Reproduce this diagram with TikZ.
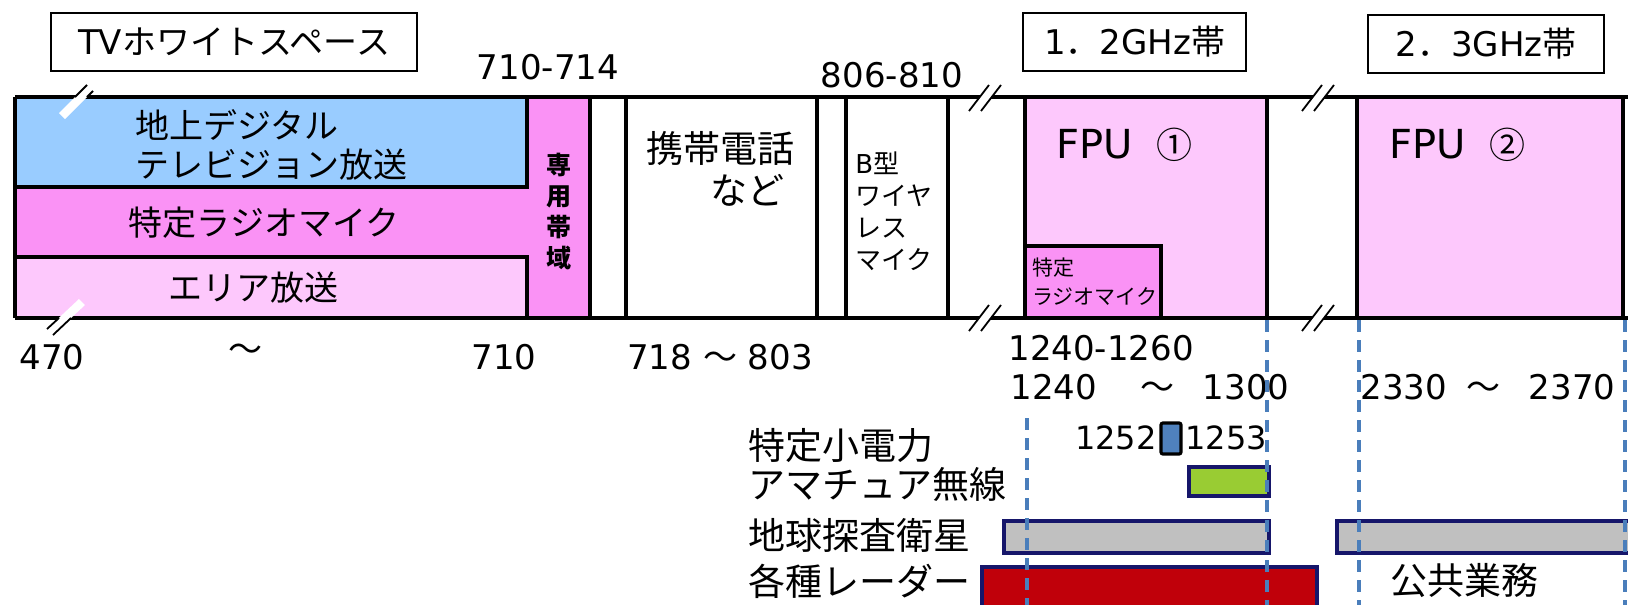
\documentclass[tikz,border=0pt]{standalone}
\usepackage{fontspec}
\setmainfont{Noto Sans CJK JP}
\newfontfamily\numf{DejaVu Sans}
\definecolor{tvblue}{HTML}{99CCFF}
\definecolor{mag}{HTML}{FA92F5}
\definecolor{lpink}{HTML}{FDC8FC}
\definecolor{dblue}{HTML}{4A7EBB}
\definecolor{navy}{HTML}{16166A}
\definecolor{lgreen}{HTML}{99CC33}
\definecolor{bgray}{HTML}{C0C0C0}
\definecolor{dred}{HTML}{C0000A}
\definecolor{sblue}{HTML}{4F81BD}
\begin{document}
\begin{tikzpicture}[x=0.5pt,y=-0.5pt,
  band/.style={line width=2.2pt},
  innerline/.style={line width=1.8pt},
  lbl/.style={inner sep=0pt, font=\fontsize{17}{20.5}\selectfont},
  lblb/.style={inner sep=0pt, font=\fontsize{18.5}{21}\selectfont},
  num/.style={inner sep=0pt, font=\numf\fontsize{17}{20}\selectfont},
  tag/.style={draw, line width=1pt, inner sep=0pt, font=\fontsize{17}{20}\selectfont},
  bar/.style={draw=navy, line width=1.6pt},
  guide/.style={dblue, line width=1.6pt, dash pattern=on 6pt off 4pt},
  brk/.pic={
    \fill[white] (-17,13) -- (3,-13) -- (15,-13) -- (-5,13) -- cycle;
    \draw[line width=0.9pt] (-17,13) -- (3,-13) (-5,13) -- (15,-13);
  }]
\useasboundingbox (0,0) rectangle (1628,605);

% ---- fills ----
\fill[mag] (15,97) rectangle (590,318);
\fill[tvblue] (15,97) rectangle (527,187);
\fill[lpink] (15,257) rectangle (527,318);
\fill[lpink] (1025,97) rectangle (1267,318);
\fill[mag] (1025,246) rectangle (1161,318);
\fill[lpink] (1357,97) rectangle (1623,318);

% ---- inner borders ----
\draw[innerline] (527,97) -- (527,187) -- (15,187);
\draw[innerline] (15,257) -- (527,257) -- (527,318);
\draw[innerline] (1025,246) -- (1161,246) -- (1161,318);

% ---- band lines ----
\draw[band] (15,97) -- (1628,97);
\draw[band] (15,318) -- (1628,318);
\foreach \xx in {15,590,626,817,846,948,1025,1267,1357,1623}
  \draw[band] (\xx,97) -- (\xx,318);

% ---- break marks ----
\pic at (986,98) {brk};
\pic at (986,318) {brk};
\pic at (1319,98) {brk};
\pic at (1319,318) {brk};
% white marks at the left
\fill[white] (59,113) -- (87,85) -- (93,91) -- (65,119) -- cycle;
\draw[line width=0.9pt] (75,97) -- (87,85) (87,97) -- (93,91);
\fill[white] (47,329) -- (79,299) -- (85,305) -- (53,335) -- cycle;
\draw[line width=0.9pt] (47,329) -- (59,318) (53,335) -- (71,318);

% ---- title boxes ----
\node[tag, minimum width=183pt, minimum height=29pt] (tv) at (234,41.5) {{\numf TV}ホワイトスペース};
\node[tag, minimum width=111.5pt, minimum height=29pt] (g12) at (1134.5,41.5) {{\numf 1}．{\numf 2GHz}帯};
\node[tag, minimum width=118pt, minimum height=29pt] (g23) at (1486,43.6) {{\numf 2}．{\numf 3GHz}帯};

% ---- band labels ----
\node[lbl, align=left, anchor=west, font=\fontsize{17}{19.5}\selectfont] (dtv) at (135,144.5) {地上デジタル\\テレビジョン放送};
\node[lbl] (radio) at (264,223) {特定ラジオマイク};
\node[lbl] (area) at (253,288) {エリア放送};
\node[inner sep=0pt, align=center, font=\bfseries\fontsize{12.5}{15.5}\selectfont] (sen) at (559,211) {専\\用\\帯\\域};
\node[lblb, anchor=west] (kei) at (646,148) {携帯電話};
\node[lblb, anchor=east] (nado) at (785,190) {など};
\node[inner sep=0pt, align=left, anchor=west, font=\fontsize{13}{16}\selectfont] (btype) at (855,211) {{\numf B}型\\ワイヤ\\レス\\マイク};
\node[inner sep=0pt, anchor=west] (fpu1) at (1056,145) {{\numf\fontsize{20}{22}\selectfont FPU}\hspace{12pt}{\fontsize{18}{21}\selectfont ①}};
\node[inner sep=0pt, anchor=west] (fpu2) at (1389,145) {{\numf\fontsize{20}{22}\selectfont FPU}\hspace{12pt}{\fontsize{18}{21}\selectfont ②}};
\node[inner sep=0pt, align=left, anchor=west, font=\fontsize{10.5}{14.5}\selectfont] (tok2) at (1032,282) {特定\\ラジオマイク};

% ---- frequency numbers ----
\node[num] (n710a) at (548,67) {710-714};
\node[num] (n806) at (892,75) {806-810};
\node[num] (n470) at (52,357) {470};
\node[lbl] (tl1) at (245,353) {～};
\node[num] (n710) at (504,357) {710};
\node[num] (n718) at (720,357) {718 {\rmfamily ～} 803};
\node[num, anchor=west] (n1240a) at (1008,348) {1240-1260};
\node[num, anchor=west] (n1240b) at (1010,387) {1240\hspace{22pt}{\rmfamily ～}\hspace{14pt}1300};
\node[num, anchor=west] (n2330) at (1360,387) {2330\hspace{10pt}{\rmfamily ～}\hspace{14pt}2370};

% ---- lower legend ----
\node[lblb, anchor=west] (l1) at (748,446) {特定小電力};
\node[lblb, anchor=west] (l2) at (748,484) {アマチュア無線};
\node[lblb, anchor=west] (l3) at (748,535) {地球探査衛星};
\node[lblb, anchor=west] (l4) at (748,581) {各種レーダー};
\node[lblb, anchor=west] (pub) at (1390,581) {公共業務};
\node[num, anchor=east, font=\numf\fontsize{16}{19}\selectfont] (n1252) at (1157,438) {1252};
\node[num, anchor=west, font=\numf\fontsize{16}{19}\selectfont] (n1253) at (1185,438) {1253};

\draw[fill=sblue, line width=1.6pt, rounded corners=1pt] (1161,423) rectangle (1181,454);
\draw[bar, fill=lgreen] (1189,467) rectangle (1269,496);
\draw[bar, fill=bgray] (1004,521) rectangle (1269,553);
\draw[bar, fill=bgray] (1337,521) rectangle (1640,553);
\draw[bar, fill=dred] (982,567) rectangle (1317,612);

% ---- dashed guides ----
\draw[guide] (1027,418) -- (1027,605);
\draw[guide] (1267,320) -- (1267,605);
\draw[guide] (1359,320) -- (1359,605);
\draw[guide] (1625,320) -- (1625,605);
\end{tikzpicture}
\end{document}
